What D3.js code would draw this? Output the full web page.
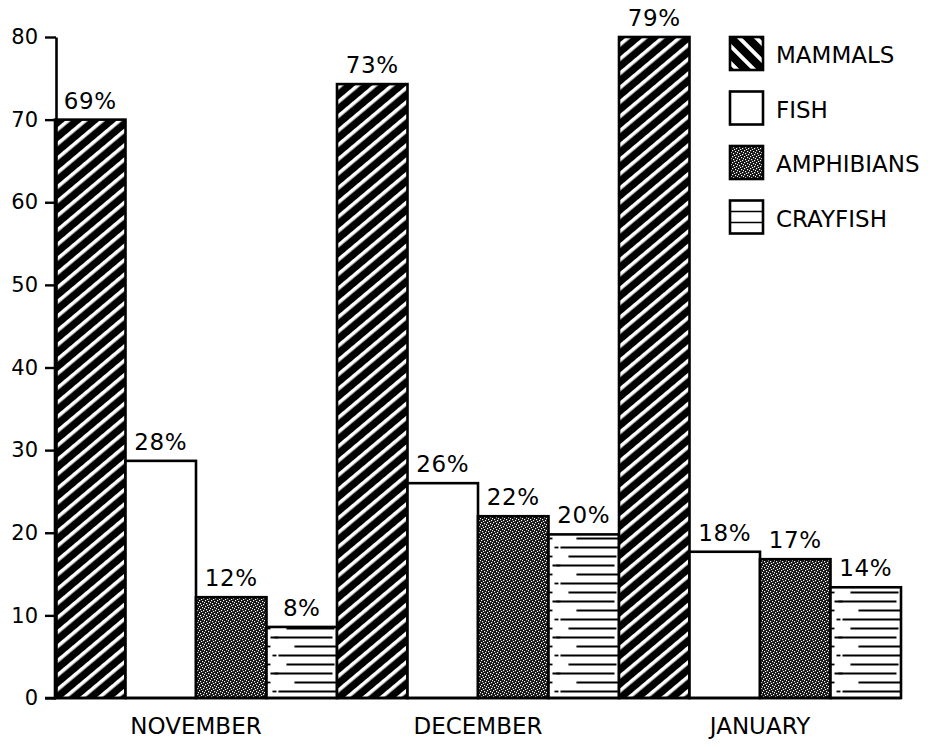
<!DOCTYPE html>
<html>
<head>
<meta charset="utf-8">
<script src="https://cdn.jsdelivr.net/npm/d3@7"></script>
<style>
  html, body { margin: 0; padding: 0; background: #fff; }
  svg { display: block; }
  text { font-family: "DejaVu Sans", sans-serif; fill: #000; }
</style>
</head>
<body>
<script>
// ── Data ────────────────────────────────────────────────────────────────────
const months = ['NOVEMBER', 'DECEMBER', 'JANUARY'];
const series = ['MAMMALS', 'FISH', 'AMPHIBIANS', 'CRAYFISH'];

// bar heights as drawn on the chart
const mammals    = [70, 74.3, 80];
const fish       = [28.7, 26, 17.7];
const amphibians = [12.2, 22, 16.8];
const crayfish   = [8.6, 19.8, 13.4];

// printed percent labels
const mammalsLabels    = ['69%', '73%', '79%'];
const fishLabels       = ['28%', '26%', '18%'];
const amphibiansLabels = ['12%', '22%', '17%'];
const crayfishLabels   = ['8%', '20%', '14%'];

const yTicks = [0, 10, 20, 30, 40, 50, 60, 70, 80];

// ── Setup ───────────────────────────────────────────────────────────────────
const width = 936, height = 747;

const svg = d3.select('body').append('svg')
    .attr('width', width)
    .attr('height', height);

const x0 = d3.scaleBand().domain(months).range([55, 901]).paddingInner(0);
const x1 = d3.scaleBand().domain(series).range([0, x0.bandwidth()]);
const y = d3.scaleLinear().domain([0, 80]).range([698, 37]);

const values = { MAMMALS: mammals, FISH: fish, AMPHIBIANS: amphibians, CRAYFISH: crayfish };
const labels = { MAMMALS: mammalsLabels, FISH: fishLabels, AMPHIBIANS: amphibiansLabels, CRAYFISH: crayfishLabels };

// ── Patterns ────────────────────────────────────────────────────────────────
const defs = svg.append('defs');

// diagonal hatch "/" for bars
const hatch = defs.append('pattern')
    .attr('id', 'hatch')
    .attr('patternUnits', 'userSpaceOnUse')
    .attr('width', 11).attr('height', 11)
    .attr('patternTransform', 'rotate(50)');
hatch.append('rect').attr('width', 11).attr('height', 11).attr('fill', '#000');
hatch.append('rect').attr('x', 0).attr('width', 3.6).attr('height', 11).attr('fill', '#fff');

// diagonal hatch "\" for legend swatch
const hatchLeg = defs.append('pattern')
    .attr('id', 'hatchLegend')
    .attr('patternUnits', 'userSpaceOnUse')
    .attr('width', 12).attr('height', 12)
    .attr('patternTransform', 'translate(730,37) rotate(-45)');
hatchLeg.append('rect').attr('width', 12).attr('height', 12).attr('fill', '#000');
hatchLeg.append('rect').attr('x', 4).attr('width', 4).attr('height', 12).attr('fill', '#fff');

// stipple for amphibians
const stip = defs.append('pattern')
    .attr('id', 'stipple')
    .attr('patternUnits', 'userSpaceOnUse')
    .attr('width', 6).attr('height', 6);
stip.append('rect').attr('width', 6).attr('height', 6).attr('fill', '#111');
[[0, 0], [3, 1], [1, 3], [4, 4], [2, 5], [5, 2]].forEach(([px, py]) => {
    stip.append('rect').attr('x', px).attr('y', py)
        .attr('width', 1.2).attr('height', 1.2).attr('fill', '#fff');
});

// broken horizontal lines for crayfish
const lines = defs.append('pattern')
    .attr('id', 'hlines')
    .attr('patternUnits', 'userSpaceOnUse')
    .attr('width', 70.5).attr('height', 36)
    .attr('patternTransform', 'translate(0,3)');
lines.append('rect').attr('width', 70.5).attr('height', 36).attr('fill', '#fff');
[[0, 6, 12, 70], [1, 0, 20, 68], [2, 8, 4, 66], [3, 0, 28, 70]].forEach(([i, a, b, c]) => {
    const ly = i * 9 + 4.5;
    lines.append('line').attr('x1', a).attr('x2', a + 4).attr('y1', ly).attr('y2', ly)
        .attr('stroke', '#000').attr('stroke-width', 1.8);
    lines.append('line').attr('x1', b).attr('x2', c).attr('y1', ly).attr('y2', ly)
        .attr('stroke', '#000').attr('stroke-width', 1.8);
});

const fills = {
    MAMMALS: 'url(#hatch)',
    FISH: '#fff',
    AMPHIBIANS: 'url(#stipple)',
    CRAYFISH: 'url(#hlines)',
};

// ── Bars ────────────────────────────────────────────────────────────────────
const groups = svg.selectAll('.month')
    .data(months)
    .enter()
    .append('g')
    .attr('class', 'month')
    .attr('transform', d => `translate(${x0(d)},0)`);

groups.selectAll('rect')
    .data((m, i) => series.map(s => ({ s, v: values[s][i], label: labels[s][i] })))
    .enter()
    .append('rect')
    .attr('x', d => x1(d.s))
    .attr('y', d => y(d.v))
    .attr('width', x1.bandwidth())
    .attr('height', d => y(0) - y(d.v))
    .attr('fill', d => fills[d.s])
    .attr('stroke', '#000')
    .attr('stroke-width', 2.6);

groups.selectAll('.pct')
    .data((m, i) => series.map(s => ({ s, v: values[s][i], label: labels[s][i] })))
    .enter()
    .append('text')
    .attr('class', 'pct')
    .attr('x', d => x1(d.s) + x1.bandwidth() / 2)
    .attr('y', d => y(d.v) - 11)
    .attr('text-anchor', 'middle')
    .attr('font-size', '23px')
    .attr('letter-spacing', '0.6px')
    .text(d => d.label);

// ── Axes ────────────────────────────────────────────────────────────────────
const yAxis = svg.append('g')
    .attr('transform', 'translate(56,0)')
    .call(d3.axisLeft(y).tickValues(yTicks).tickSize(11).tickSizeOuter(0).tickPadding(7));
yAxis.select('.domain').attr('stroke', '#000').attr('stroke-width', 2.6);
yAxis.selectAll('.tick line').attr('stroke', '#000').attr('stroke-width', 2.4);
yAxis.selectAll('.tick text')
    .attr('font-family', '"DejaVu Sans", sans-serif')
    .attr('font-size', '21px')
    .attr('fill', '#000');

// baseline
svg.append('line')
    .attr('x1', 45).attr('x2', x0.range()[1])
    .attr('y1', y(0)).attr('y2', y(0))
    .attr('stroke', '#000')
    .attr('stroke-width', 2.6);

// month labels
svg.selectAll('.mlabel')
    .data(months)
    .enter()
    .append('text')
    .attr('class', 'mlabel')
    .attr('x', d => x0(d) + x0.bandwidth() / 2)
    .attr('y', 734)
    .attr('text-anchor', 'middle')
    .attr('font-size', '23px')
    .text(d => d);

// ── Legend ──────────────────────────────────────────────────────────────────
const legendFills = {
    MAMMALS: 'url(#hatchLegend)',
    FISH: '#fff',
    AMPHIBIANS: 'url(#stipple)',
    CRAYFISH: '#fff',
};

const legend = svg.append('g').attr('class', 'legend');
series.forEach((s, i) => {
    const ly = 37 + i * 54.5;
    legend.append('rect')
        .attr('x', 730).attr('y', ly)
        .attr('width', 33).attr('height', 33)
        .attr('fill', legendFills[s])
        .attr('stroke', '#000')
        .attr('stroke-width', 2.6);
    if (s === 'CRAYFISH') {
        [11, 22].forEach(dy => {
            legend.append('line')
                .attr('x1', 730).attr('x2', 763)
                .attr('y1', ly + dy).attr('y2', ly + dy)
                .attr('stroke', '#000').attr('stroke-width', 1.6);
        });
    }
    legend.append('text')
        .attr('x', 776)
        .attr('y', ly + 26)
        .attr('font-size', '23px')
        .text(s);
});
</script>
</body>
</html>
